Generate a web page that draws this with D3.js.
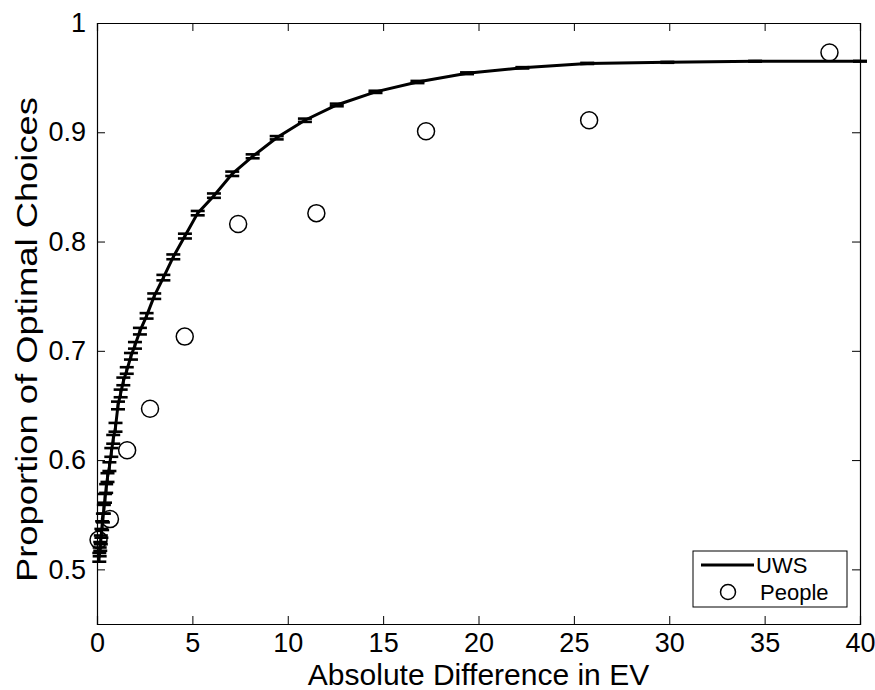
<!DOCTYPE html>
<html>
<head>
<meta charset="utf-8">
<script src="https://cdn.jsdelivr.net/npm/d3@7"></script>
<style>
  body { margin: 0; background: #fff; }
  text { font-family: "Liberation Sans", Arial, sans-serif; fill: #000; }
</style>
</head>
<body>
<svg width="875" height="690"></svg>
<script>
// model (UWS) curve
var modelX = [0.12, 0.14, 0.17, 0.2, 0.23, 0.27, 0.31, 0.36, 0.42, 0.48, 0.55, 0.65, 0.75, 0.85, 0.97,
              1.1, 1.24, 1.38, 1.56, 1.78, 1.99, 2.25, 2.6, 3.0, 3.48, 4.0, 4.61, 5.28, 6.13, 7.09,
              8.16, 9.42, 10.9, 12.57, 14.6, 16.8, 19.4, 22.3, 25.7, 29.9, 34.5, 40];
var modelY = [0.511, 0.516, 0.521, 0.527, 0.533, 0.540, 0.547, 0.555, 0.565, 0.574, 0.584, 0.594, 0.607, 0.619, 0.630,
              0.650, 0.661, 0.672, 0.682, 0.695, 0.705, 0.718, 0.732, 0.750, 0.767, 0.786, 0.805, 0.826, 0.842, 0.862,
              0.878, 0.895, 0.911, 0.925, 0.937, 0.946, 0.954, 0.959, 0.963, 0.964, 0.965, 0.965];
var modelErr = [0.004, 0.004, 0.004, 0.004, 0.004, 0.004, 0.004, 0.004, 0.004, 0.004, 0.004, 0.004, 0.004, 0.004, 0.004,
                0.0035, 0.0035, 0.0035, 0.003, 0.003, 0.003, 0.003, 0.0025, 0.0025, 0.0025, 0.0022, 0.0022, 0.002, 0.002, 0.002,
                0.0018, 0.0015, 0.0015, 0.0012, 0.001, 0.001, 0.0008, 0.0006, 0.0005, 0.0004, 0.0003, 0.0003];

// people data
var peopleX = [0.08, 0.68, 1.58, 2.78, 4.6, 7.4, 11.5, 17.25, 25.8, 38.4];
var peopleY = [0.527, 0.546, 0.609, 0.647, 0.713, 0.816, 0.826, 0.901, 0.911, 0.973];

var xTicks = [0, 5, 10, 15, 20, 25, 30, 35, 40];
var yTicks = [0.5, 0.6, 0.7, 0.8, 0.9, 1];

var svg = d3.select('svg');
var plotL = 97, plotR = 860, plotT = 23, plotB = 624;

var x = d3.scaleLinear().domain([0, 40]).range([plotL, plotR]);
var y = d3.scaleLinear().domain([0.45, 1]).range([plotB, plotT]);

// axes (ticks inward, mirrored on top/right)
var fmt = function(d) { return d3.format('')(d); };
svg.append('g').attr('transform', 'translate(0,' + plotB + ')')
    .call(d3.axisBottom(x).tickValues(xTicks).tickSize(-8).tickPadding(9).tickFormat(fmt));
svg.append('g').attr('transform', 'translate(0,' + plotT + ')')
    .call(d3.axisTop(x).tickValues(xTicks).tickSize(-8).tickFormat(''));
svg.append('g').attr('transform', 'translate(' + plotL + ',0)')
    .call(d3.axisLeft(y).tickValues(yTicks).tickSize(-8).tickPadding(11).tickFormat(fmt));
svg.append('g').attr('transform', 'translate(' + plotR + ',0)')
    .call(d3.axisRight(y).tickValues(yTicks).tickSize(-8).tickFormat(''));

svg.selectAll('.domain').attr('stroke', '#000').attr('stroke-width', 1.2);
svg.selectAll('.tick line').attr('stroke', '#000').attr('stroke-width', 1);
svg.selectAll('.tick text').style('font-size', '27px').attr('fill', '#000');

// axis labels
svg.append('text')
    .attr('x', (plotL + plotR) / 2).attr('y', 685)
    .attr('text-anchor', 'middle')
    .style('font-size', '30px')
    .text('Absolute Difference in EV');

svg.append('text')
    .attr('transform', 'translate(37,' + ((plotT + plotB) / 2 + 16) + ') rotate(-90)')
    .attr('text-anchor', 'middle')
    .style('font-size', '30px')
    .attr('textLength', 485)
    .attr('lengthAdjust', 'spacingAndGlyphs')
    .text('Proportion of Optimal Choices');

var model = modelX.map(function(d, i) { return {x: d, y: modelY[i], e: modelErr[i]}; });

// error bars
var eb = svg.append('g').attr('stroke', '#000').attr('stroke-width', 2.6);
model.forEach(function(d) {
    [d.y - d.e, d.y + d.e].forEach(function(v) {
        eb.append('line')
            .attr('x1', x(d.x) - 7).attr('x2', x(d.x) + 7)
            .attr('y1', y(v)).attr('y2', y(v));
    });
    eb.append('line')
        .attr('x1', x(d.x)).attr('x2', x(d.x))
        .attr('y1', y(d.y - d.e)).attr('y2', y(d.y + d.e));
});

// model line
svg.append('path')
    .datum(model)
    .attr('fill', 'none')
    .attr('stroke', '#000')
    .attr('stroke-width', 3)
    .attr('d', d3.line().x(function(d) { return x(d.x); }).y(function(d) { return y(d.y); }));

// people circles
svg.selectAll('.people')
    .data(peopleX.map(function(d, i) { return {x: d, y: peopleY[i]}; }))
    .enter()
      .append('circle')
      .attr('class', 'people')
      .attr('cx', function(d) { return x(d.x); })
      .attr('cy', function(d) { return y(d.y); })
      .attr('r', 8.5)
      .attr('fill', 'none')
      .attr('stroke', '#000')
      .attr('stroke-width', 1.5);

// legend
var lg = svg.append('g');
lg.append('rect')
    .attr('x', 693).attr('y', 551).attr('width', 154).attr('height', 56)
    .attr('fill', '#fff').attr('stroke', '#000').attr('stroke-width', 1);
lg.append('line')
    .attr('x1', 701).attr('x2', 754).attr('y1', 565).attr('y2', 565)
    .attr('stroke', '#000').attr('stroke-width', 3);
lg.append('text').attr('x', 756).attr('y', 573).style('font-size', '22px').text('UWS');
lg.append('circle')
    .attr('cx', 728).attr('cy', 592).attr('r', 7.5)
    .attr('fill', 'none').attr('stroke', '#000').attr('stroke-width', 1.5);
lg.append('text').attr('x', 760).attr('y', 600).style('font-size', '22px').text('People');
</script>
</body>
</html>
